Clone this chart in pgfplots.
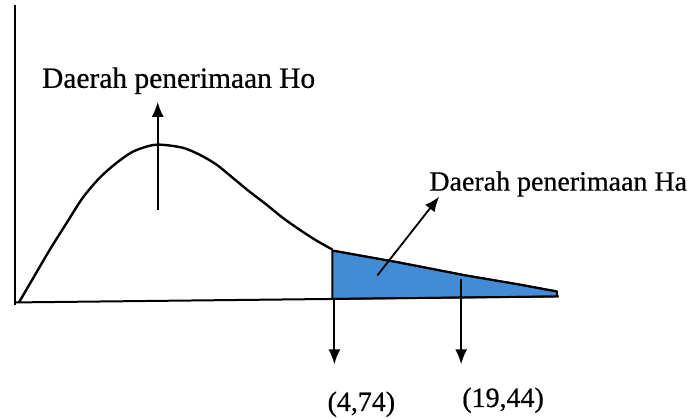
\documentclass[border=0pt]{standalone}
\usepackage{pgfplots}
\pgfplotsset{compat=1.18}
\usepackage{fontspec}
\setmainfont{Liberation Serif}[FakeBold=0.6]
\newfontfamily\lab{Liberation Serif}[FakeBold=0.6]
\usetikzlibrary{arrows.meta}
\definecolor{shade}{RGB}{66,140,214}
\begin{document}
\begin{tikzpicture}
\begin{axis}[
  width=687pt, height=418pt, scale only axis,
  xmin=0, xmax=687, ymin=0, ymax=418,
  hide axis, clip=false,
]
\path (axis cs:0,0) rectangle (axis cs:687,418);
% shaded rejection region
\addplot[fill=shade, draw=black, line width=1.8pt] coordinates {
  (333,118.5) (333,167) (400,155) (467,142) (520,133) (558,126) (558,121)
} -- cycle;
% axes
\addplot[black, line width=2pt] coordinates {(15,112) (15,413)};
\addplot[black, line width=2pt] coordinates {(15,115) (560,121)};
% density curve
\addplot[black, line width=2.4pt, smooth] coordinates {
  (19,115) (33,139) (50,168) (67,195) (83,220) (100,240) (117,255) (133,266)
  (150,272) (162,273) (183,270) (200,263) (217,253) (233,240) (250,226)
  (267,213) (283,200) (300,188) (317,177) (333,168)
};
\addplot[black, line width=2.2pt] coordinates {
  (333,167) (400,155) (467,142) (520,133) (558,126)
};
% arrows
\addplot[black, line width=1.8pt, -{Latex[length=15pt,width=12pt]}] coordinates {(158,208) (158,316)};
\addplot[black, line width=1.8pt, -{Latex[length=15pt,width=12pt]}] coordinates {(378,142) (440,221)};
\addplot[black, line width=1.8pt, -{Latex[length=15pt,width=12pt]}] coordinates {(335,118) (335,53)};
\addplot[black, line width=1.8pt, -{Latex[length=15pt,width=12pt]}] coordinates {(462,138) (462,53)};
% labels
\node[anchor=base west, inner sep=0pt, font=\lab\fontsize{29.5}{33}\selectfont] at (axis cs:42,330) {Daerah penerimaan Ho};
\node[anchor=base west, inner sep=0pt, font=\lab\fontsize{28}{32}\selectfont] at (axis cs:430,227) {Daerah penerimaan Ha};
\node[anchor=west, inner sep=0pt, font=\lab\fontsize{28}{32}\selectfont] at (axis cs:328,13) {(4,74)};
\node[anchor=west, inner sep=0pt, font=\lab\fontsize{28}{32}\selectfont] at (axis cs:463,17) {(19,44)};
\end{axis}
\end{tikzpicture}
\end{document}
